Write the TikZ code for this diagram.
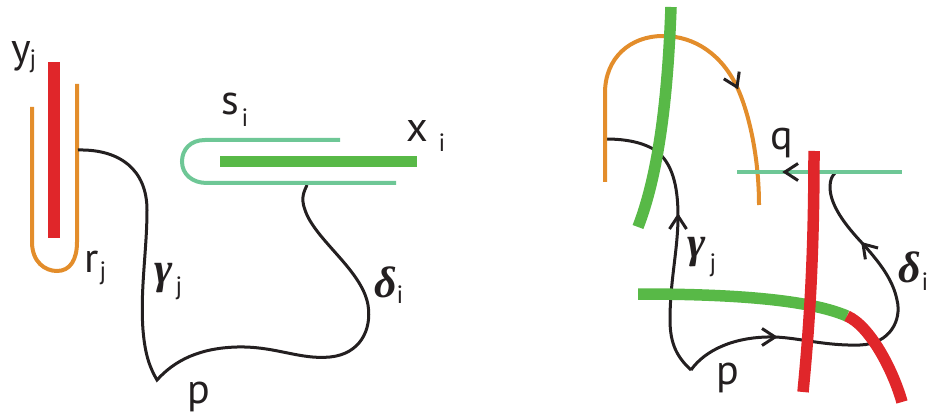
\documentclass[tikz,border=0pt]{standalone}
\usepackage{fontspec}
\setmainfont{PT Sans}
\newfontfamily\grk{Liberation Serif}
\definecolor{cred}{HTML}{E0262A}
\definecolor{corange}{HTML}{E38D2B}
\definecolor{clgreen}{HTML}{6EC796}
\definecolor{cdgreen}{HTML}{58B947}
\definecolor{cblack}{HTML}{231F20}
\newcommand\mybarb[3]{\draw[barbsty, shift={(#1,#2)}, rotate=#3] (-13pt,8.5pt) -- (0pt,0pt) -- (-13pt,-8.5pt);}
\begin{document}
\begin{tikzpicture}[x=1pt,y=-1pt,
  lbl/.style={inner sep=0pt, anchor=base, text=cblack, font=\fontsize{42}{42}\selectfont},
  sub/.style={inner sep=0pt, anchor=base, text=cblack, font=\fontsize{25}{25}\selectfont},
  grklbl/.style={inner sep=0pt, anchor=base, text=cblack, font=\fontsize{44}{44}\selectfont\grk\bfseries\itshape},
  curve/.style={line width=3pt, draw=cblack},
  orng/.style={line width=4pt, draw=corange},
  lgrn/.style={line width=4pt, draw=clgreen},
  bar/.style={line width=11.5pt},
  barbsty/.style={line width=3pt, draw=cblack, line join=miter}]
\useasboundingbox (0,0) rectangle (928,414);

% ---------- left picture ----------
\draw[bar, draw=cred] (54,62) -- (54,238);
\draw[orng] (32,107) -- (32,242) .. controls (32,262) and (45,271) .. (57,271)
  .. controls (70,271) and (77,260) .. (77,242) -- (77,84);
\draw[curve] (78,150) .. controls (120,149) and (147,170) .. (147,210)
  .. controls (147,250) and (140,290) .. (143,330)
  .. controls (145,355) and (150,368) .. (157,380)
  .. controls (175,360) and (200,348) .. (237,347)
  .. controls (275,346) and (300,360) .. (330,357)
  .. controls (360,354) and (372,330) .. (368,305)
  .. controls (362,270) and (315,240) .. (305,210)
  .. controls (300,197) and (305,190) .. (307,185);
\draw[lgrn] (340,140) -- (205,140) .. controls (190,140) and (182,150) .. (182,161.5)
  .. controls (182,174) and (192,183) .. (207,183) -- (396,183);
\draw[bar, draw=cdgreen] (220,161.5) -- (417,161.5);

\node[lbl] (ly) at (21,63) {y};
\node[sub] (lyj) at (33,68) {j};
\node[lbl] (lr) at (92,272) {r};
\node[sub] (lrj) at (103,279) {j};
\node[grklbl] (lg) at (164,283) {γ};
\node[sub] (lgj) at (179,294) {j};
\node[lbl] (lp) at (199,403) {p};
\node[lbl] (ls) at (230,115) {s};
\node[sub] (lsi) at (245,127) {i};
\node[lbl] (lx) at (417,142) {x};
\node[sub] (lxi) at (442,152) {i};
\node[grklbl] (ld) at (386,297) {δ};
\node[sub] (ldi) at (400,303) {i};

% ---------- right picture ----------
% gamma path
\draw[curve] (691,370) .. controls (678,358) and (670,345) .. (670,320)
  .. controls (670,280) and (678,250) .. (678,216)
  .. controls (678,185) and (672,162) .. (655,150)
  .. controls (640,141) and (622,139) .. (605,139);
% delta path
\draw[curve] (691,370) .. controls (705,350) and (735,336) .. (775,337)
  .. controls (800,338) and (825,346) .. (860,345)
  .. controls (890,344) and (902,320) .. (897,300)
  .. controls (893,280) and (880,263) .. (863,244)
  .. controls (845,225) and (830,205) .. (830,187)
  .. controls (830,180) and (832,176) .. (835,173);
% orange arch
\draw[orng] (605,182) -- (605,93) .. controls (605,58) and (630,36) .. (663,36)
  .. controls (695,36) and (722,55) .. (737,87)
  .. controls (750,115) and (759,160) .. (759,205);
% light green line
\draw[lgrn] (737,172) -- (902,172);
% arrow barbs
\mybarb{737}{87}{-65}
\mybarb{785}{172}{180}
\mybarb{678}{216}{90}
\mybarb{775}{337}{0}
\mybarb{863}{244}{132}
% thick green strands
\draw[bar, draw=cdgreen] (671,7) .. controls (668,90) and (660,170) .. (638,227);
\draw[bar, draw=cdgreen] (638,294) .. controls (720,294) and (805,298) .. (847,316);
% red strands
\draw[bar, draw=cred] (847,316) .. controls (870,326) and (893,370) .. (902,402);
\draw[bar, draw=cred] (814,151) .. controls (814,250) and (810,320) .. (803,392);

\node[lbl] (rq) at (782,150) {q};
\node[grklbl] (rg) at (697,257) {γ};
\node[sub] (rgj) at (713,271) {j};
\node[grklbl] (rd) at (910,282) {δ};
\node[sub] (rdi) at (925,290) {i};
\node[lbl] (rp) at (728,384) {p};
\end{tikzpicture}
\end{document}
